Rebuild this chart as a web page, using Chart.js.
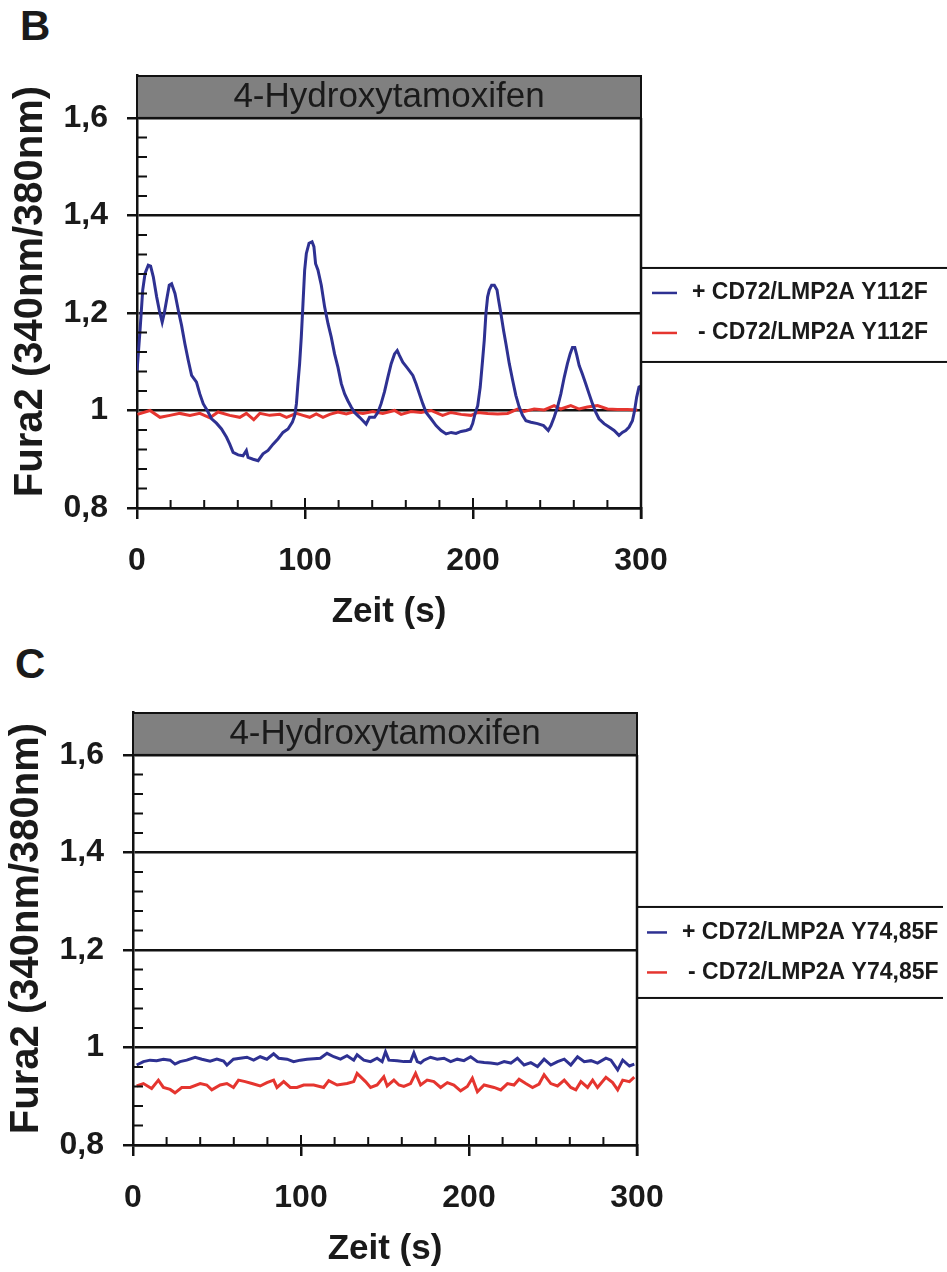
<!DOCTYPE html>
<html>
<head>
<meta charset="utf-8">
<script src="https://cdn.jsdelivr.net/npm/chart.js@4.4.1/dist/chart.umd.min.js"></script>
<style>
  html, body { margin: 0; padding: 0; background: #fff; overflow: hidden; }
  body { width: 947px; height: 1272px; position: relative; font-family: "Liberation Sans", Arial, sans-serif; }
  .panel { position: absolute; width: 947px; height: 578px; }
  .letter { position: absolute; font-weight: bold; font-size: 42px; line-height: 42px; color: #1a1a1a; }
</style>
</head>
<body>
<div class="letter" style="left:20px;top:5px">B</div>
<div class="panel" style="left:0;top:60px"><canvas id="chartB" width="947" height="578"></canvas></div>
<div class="letter" style="left:15px;top:643px">C</div>
<div class="panel" style="left:-4px;top:697px"><canvas id="chartC" width="947" height="578"></canvas></div>

<script>
// Achsen
const yTicks = [0.8, 1.0, 1.2, 1.4, 1.6];
const xTicks = [0, 100, 200, 300];
const yTop = 1.688; // Platz für den grauen Balken über 1,6
const headerText = '4-Hydroxytamoxifen';
const yTitle = 'Fura2 (340nm/380nm)';
const xTitle = 'Zeit (s)';

// Panel B: Y112F
const labelsB = ['+ CD72/LMP2A Y112F', '- CD72/LMP2A Y112F'];
const timeB_plus = [0,1.8,3.4,4.8,6.7,8.1,9.7,11.7,13.3,15,16.2,17.6,19.2,20.6,22.6,24.6,26.5,28.5,30.5,32.5,35.4,37.4,39.4,41.8,44.4,47.3,50.3,53.3,55.2,57.2,60.2,63.1,65.1,66.1,69.1,72.1,75,78,81,84,86.9,89.9,92.5,93.9,94.9,95.8,96.8,97.8,98.8,99.8,100.8,102.4,104.2,105.3,106.3,107.7,109.7,111.7,113.7,115.6,117.6,119.6,121.6,123.6,125.5,127.5,129.5,132.5,134.5,136.4,138.4,141.4,143.4,145.3,147.3,149.3,151.3,153.3,154.9,156.2,158.2,161.2,164.2,166.1,168.1,170.1,172.1,175,178,181,184,187,189.9,192.9,195.9,198.4,199.8,201.2,202.8,204.3,205.7,206.7,207.7,208.7,209.7,211.1,212.7,214.3,215.1,216.6,218.2,219.6,221.6,223.6,225.5,227.5,229.5,231.5,234.5,238.4,242,244.8,246.4,248.3,250.3,252.3,254.3,256.2,257.8,259.2,260.6,261.8,263.2,265.1,267.1,269.1,271.1,273.1,275,278,281,284,286.9,288.9,290.9,292.9,294.9,296.2,297.4,298.8,300];
const ratioB_plus = [1.08,1.164,1.247,1.281,1.298,1.296,1.274,1.233,1.205,1.181,1.199,1.226,1.257,1.26,1.24,1.205,1.175,1.137,1.103,1.072,1.058,1.034,1.014,1.0,0.983,0.974,0.962,0.945,0.931,0.914,0.909,0.907,0.918,0.904,0.9,0.897,0.911,0.918,0.931,0.942,0.955,0.962,0.976,0.99,1.014,1.055,1.096,1.151,1.219,1.288,1.322,1.343,1.346,1.336,1.301,1.288,1.257,1.212,1.178,1.151,1.116,1.089,1.055,1.034,1.02,1.007,0.996,0.986,0.979,0.972,0.986,0.986,0.996,1.014,1.038,1.068,1.096,1.116,1.123,1.113,1.099,1.086,1.072,1.055,1.034,1.014,0.996,0.983,0.969,0.959,0.952,0.955,0.953,0.957,0.959,0.962,0.973,0.993,1.01,1.048,1.103,1.144,1.199,1.233,1.247,1.257,1.257,1.247,1.229,1.199,1.164,1.137,1.096,1.062,1.031,1.007,0.99,0.979,0.976,0.973,0.969,0.959,0.969,0.986,1.007,1.034,1.068,1.096,1.116,1.129,1.129,1.113,1.092,1.075,1.055,1.034,1.014,0.996,0.983,0.973,0.966,0.959,0.949,0.955,0.959,0.966,0.979,1.0,1.027,1.048,1.05];
const timeB_minus = [0.3,7.7,13.7,19.6,25.5,31.5,37.4,43.4,48.3,55.2,61.2,65.1,69.5,73.1,79,85,89,94.9,98.8,102.8,106.7,110.7,114.7,119.6,124.6,128.5,134.5,140.4,146.3,153.3,157.2,163.1,169.1,175,181.9,186.9,192.9,198.8,202.8,208.7,214.7,220.6,226.5,230.5,236.4,242.4,248.3,252.3,258.2,263.2,268.1,274.1,280,285.9,291.9,297.8];
const ratioB_minus = [0.992,1.0,0.986,0.99,0.994,0.99,0.994,0.985,0.997,0.99,0.986,0.994,0.981,0.994,0.99,0.992,0.986,0.994,0.99,0.986,0.993,0.986,0.992,0.997,0.993,0.997,0.994,0.998,0.994,1.0,0.992,0.998,0.996,1.0,0.99,0.996,0.992,0.99,0.996,0.994,0.993,0.994,1.003,0.998,1.003,1.001,1.01,1.003,1.01,1.003,1.007,1.01,1.003,1.002,1.002,1.001];

// Panel C: Y74,85F
const labelsC = ['+ CD72/LMP2A Y74,85F', '- CD72/LMP2A Y74,85F'];
const timeC_plus = [2.2,6.2,10.1,14.1,18.1,22.1,25,28,32,37,41,45.9,49.9,53.9,55.9,59.8,63.8,67.8,71.8,75.7,79.7,83.7,86.7,91.7,95.6,99.6,103.6,107.6,111.5,115.5,119.5,123.5,127.4,131.4,133.4,137.4,141.4,145.3,148.3,150.3,152.3,157.3,161.2,165.2,167.2,169.2,171.2,173.2,177.1,181.1,185.1,189.1,193,197,201,205,209,212.9,216.9,220.9,224.9,228.8,232.8,236.8,240.8,244.7,248.7,252.7,256.7,260.6,264.6,268.6,272.6,276.5,281.5,284.5,288.5,291.5,295.5,298.4];
const ratioC_plus = [0.964,0.971,0.974,0.973,0.976,0.974,0.966,0.971,0.974,0.980,0.976,0.972,0.976,0.972,0.964,0.976,0.978,0.980,0.974,0.981,0.976,0.987,0.978,0.976,0.971,0.974,0.976,0.977,0.978,0.988,0.981,0.976,0.983,0.974,0.985,0.974,0.971,0.978,0.971,0.991,0.974,0.973,0.971,0.971,0.989,0.971,0.968,0.974,0.980,0.976,0.978,0.971,0.976,0.973,0.981,0.971,0.969,0.968,0.966,0.971,0.968,0.978,0.964,0.969,0.961,0.976,0.964,0.971,0.976,0.964,0.981,0.971,0.973,0.968,0.978,0.974,0.954,0.974,0.962,0.966];
const timeC_minus = [2.2,6.2,11.1,15.1,18.1,22.1,25,29,34,40,43.9,46.9,51.9,55.9,59.8,62.8,66.8,70.8,75.7,79.7,83.7,85.7,89.7,93.6,97.6,101.6,107.6,113.5,116.5,121.5,127.4,131.4,133.4,138.4,141.4,145.3,149.3,151.3,155.3,158.3,161.2,165.2,168.2,171.2,175.1,179.1,183.1,187.1,191,195,199,202,205,209,214.9,218.9,222.9,226.8,229.8,233.8,237.8,241.7,244.7,248.7,252.7,256.7,260.6,263.6,266.6,270.6,273.6,276.5,281.5,285.5,288.5,291.5,295.5,298.4];
const ratioC_minus = [0.921,0.926,0.916,0.933,0.918,0.914,0.907,0.918,0.918,0.926,0.923,0.913,0.923,0.926,0.918,0.933,0.930,0.926,0.921,0.928,0.933,0.918,0.930,0.918,0.918,0.923,0.923,0.918,0.932,0.923,0.926,0.930,0.947,0.930,0.918,0.923,0.940,0.921,0.933,0.923,0.920,0.926,0.947,0.923,0.933,0.930,0.918,0.928,0.923,0.911,0.920,0.937,0.909,0.923,0.918,0.913,0.926,0.923,0.935,0.926,0.918,0.925,0.944,0.926,0.921,0.933,0.918,0.913,0.930,0.918,0.933,0.918,0.939,0.928,0.913,0.933,0.930,0.939];

const BLUE = '#2e3192';
const RED = '#e5352f';
const INK = '#1a1a1a';
const FONT = '"Liberation Sans", Arial, sans-serif';

function toPoints(times, values) {
    return times.map((t, i) => ({ x: t, y: values[i] }));
}

// grauer Balken, rechter Rahmen, Teilstriche innen, Legende rechts
const panelDecor = {
    id: 'panelDecor',
    afterDraw(chart, args, opts) {
        const { ctx, chartArea: area } = chart;
        const xs = chart.scales.x, ys = chart.scales.y;
        const top16 = ys.getPixelForValue(1.6);
        const base = ys.getPixelForValue(0.8);
        ctx.save();

        ctx.fillStyle = '#808080';
        ctx.fillRect(area.left, area.top, area.right - area.left, top16 - area.top);
        ctx.strokeStyle = '#111';
        ctx.lineWidth = 2;
        ctx.strokeRect(area.left, area.top + 1, area.right - area.left, top16 - area.top - 1);
        ctx.fillStyle = INK;
        ctx.font = '35px ' + FONT;
        ctx.textAlign = 'center';
        ctx.textBaseline = 'middle';
        ctx.fillText(headerText, (area.left + area.right) / 2, (area.top + top16) / 2 + 1);

        // rechter Rahmen bis unter die Achse (Hauptstrich bei 300)
        const xr = xs.getPixelForValue(300);
        ctx.lineWidth = 2.5;
        ctx.beginPath();
        ctx.moveTo(xr, top16);
        ctx.lineTo(xr, base + 11);
        ctx.stroke();

        // kleine Teilstriche nach innen
        ctx.lineWidth = 2;
        ctx.beginPath();
        for (let k = 1; k < 20; k++) {
            if (k % 5 === 0) continue;
            const py = ys.getPixelForValue(0.8 + k * 0.04);
            ctx.moveTo(area.left, py);
            ctx.lineTo(area.left + 10, py);
        }
        for (let t = 20; t < 300; t += 20) {
            const px = xs.getPixelForValue(t);
            ctx.moveTo(px, base);
            ctx.lineTo(px, base - (t % 100 === 0 ? 10 : 8));
        }
        ctx.stroke();

        // Legende
        const lg = opts.legend;
        const cy = ys.getPixelForValue(1.2) + lg.dy;
        const bx = area.right;
        ctx.strokeStyle = '#111';
        ctx.lineWidth = 2;
        ctx.strokeRect(bx, cy - lg.height / 2, lg.width, lg.height);
        ctx.font = 'bold 23px ' + FONT;
        ctx.textAlign = 'left';
        chart.data.datasets.forEach((ds, i) => {
            const ry = cy + lg.rows[i];
            ctx.strokeStyle = ds.borderColor;
            ctx.lineWidth = 2.5;
            ctx.beginPath();
            ctx.moveTo(bx + lg.sample[0], ry);
            ctx.lineTo(bx + lg.sample[1], ry);
            ctx.stroke();
            ctx.fillStyle = INK;
            ctx.fillText(ds.label, bx + lg.textX + (i === 1 ? 6 : 0), ry);
        });
        ctx.restore();
    }
};

function makeChart(id, labels, plus, minus, legend) {
    return new Chart(document.getElementById(id), {
        type: 'line',
        data: {
            datasets: [
                { label: labels[0], data: plus, borderColor: BLUE },
                { label: labels[1], data: minus, borderColor: RED }
            ]
        },
        options: {
            responsive: false,
            animation: false,
            layout: { padding: { top: 15, right: 306, bottom: 0, left: 0 } },
            elements: {
                point: { radius: 0 },
                line: { borderWidth: 3, tension: 0, fill: false }
            },
            plugins: {
                legend: { display: false },
                tooltip: { enabled: false },
                panelDecor: { legend: legend }
            },
            scales: {
                x: {
                    type: 'linear',
                    min: 0,
                    max: 300,
                    afterBuildTicks: s => { s.ticks = xTicks.map(v => ({ value: v })); },
                    afterFit: s => { s.height = 130; s.paddingLeft = 0; s.paddingRight = 0; },
                    grid: { drawOnChartArea: false, drawTicks: true, tickLength: 11, color: '#111', lineWidth: 2.5 },
                    border: { display: true, color: '#111', width: 2.5 },
                    ticks: { color: INK, padding: 23, maxRotation: 0, font: { family: FONT, size: 32, weight: 'bold' } },
                    title: { display: true, text: xTitle, color: INK, padding: { top: 0, bottom: 5 },
                             font: { family: FONT, size: 35, weight: 'bold' } }
                },
                y: {
                    min: 0.8,
                    max: yTop,
                    afterBuildTicks: s => { s.ticks = yTicks.map(v => ({ value: v })); },
                    afterFit: s => { s.width = 137; s.paddingTop = 0; s.paddingBottom = 0; },
                    grid: { drawTicks: true, tickLength: 10, color: '#111', lineWidth: 2.5 },
                    border: { display: true, color: '#111', width: 2.5 },
                    ticks: {
                        color: INK, padding: 19,
                        font: { family: FONT, size: 32, weight: 'bold' },
                        callback: v => {
                            const r = Math.round(v * 10) / 10;
                            return r === 1 ? '1' : r.toFixed(1).replace('.', ',');
                        }
                    },
                    title: { display: true, text: yTitle, color: INK, padding: { top: 7, bottom: 0 },
                             font: { family: FONT, size: 40, weight: 'bold' } }
                }
            }
        },
        plugins: [panelDecor]
    });
}

makeChart('chartB', labelsB, toPoints(timeB_plus, ratioB_plus), toPoints(timeB_minus, ratioB_minus),
    { dy: 2, height: 94, width: 330, rows: [-22, 18], sample: [11, 36], textX: 51 });
makeChart('chartC', labelsC, toPoints(timeC_plus, ratioC_plus), toPoints(timeC_minus, ratioC_minus),
    { dy: 2.5, height: 91, width: 308, rows: [-20, 20], sample: [10, 30], textX: 45 });
</script>
</body>
</html>
